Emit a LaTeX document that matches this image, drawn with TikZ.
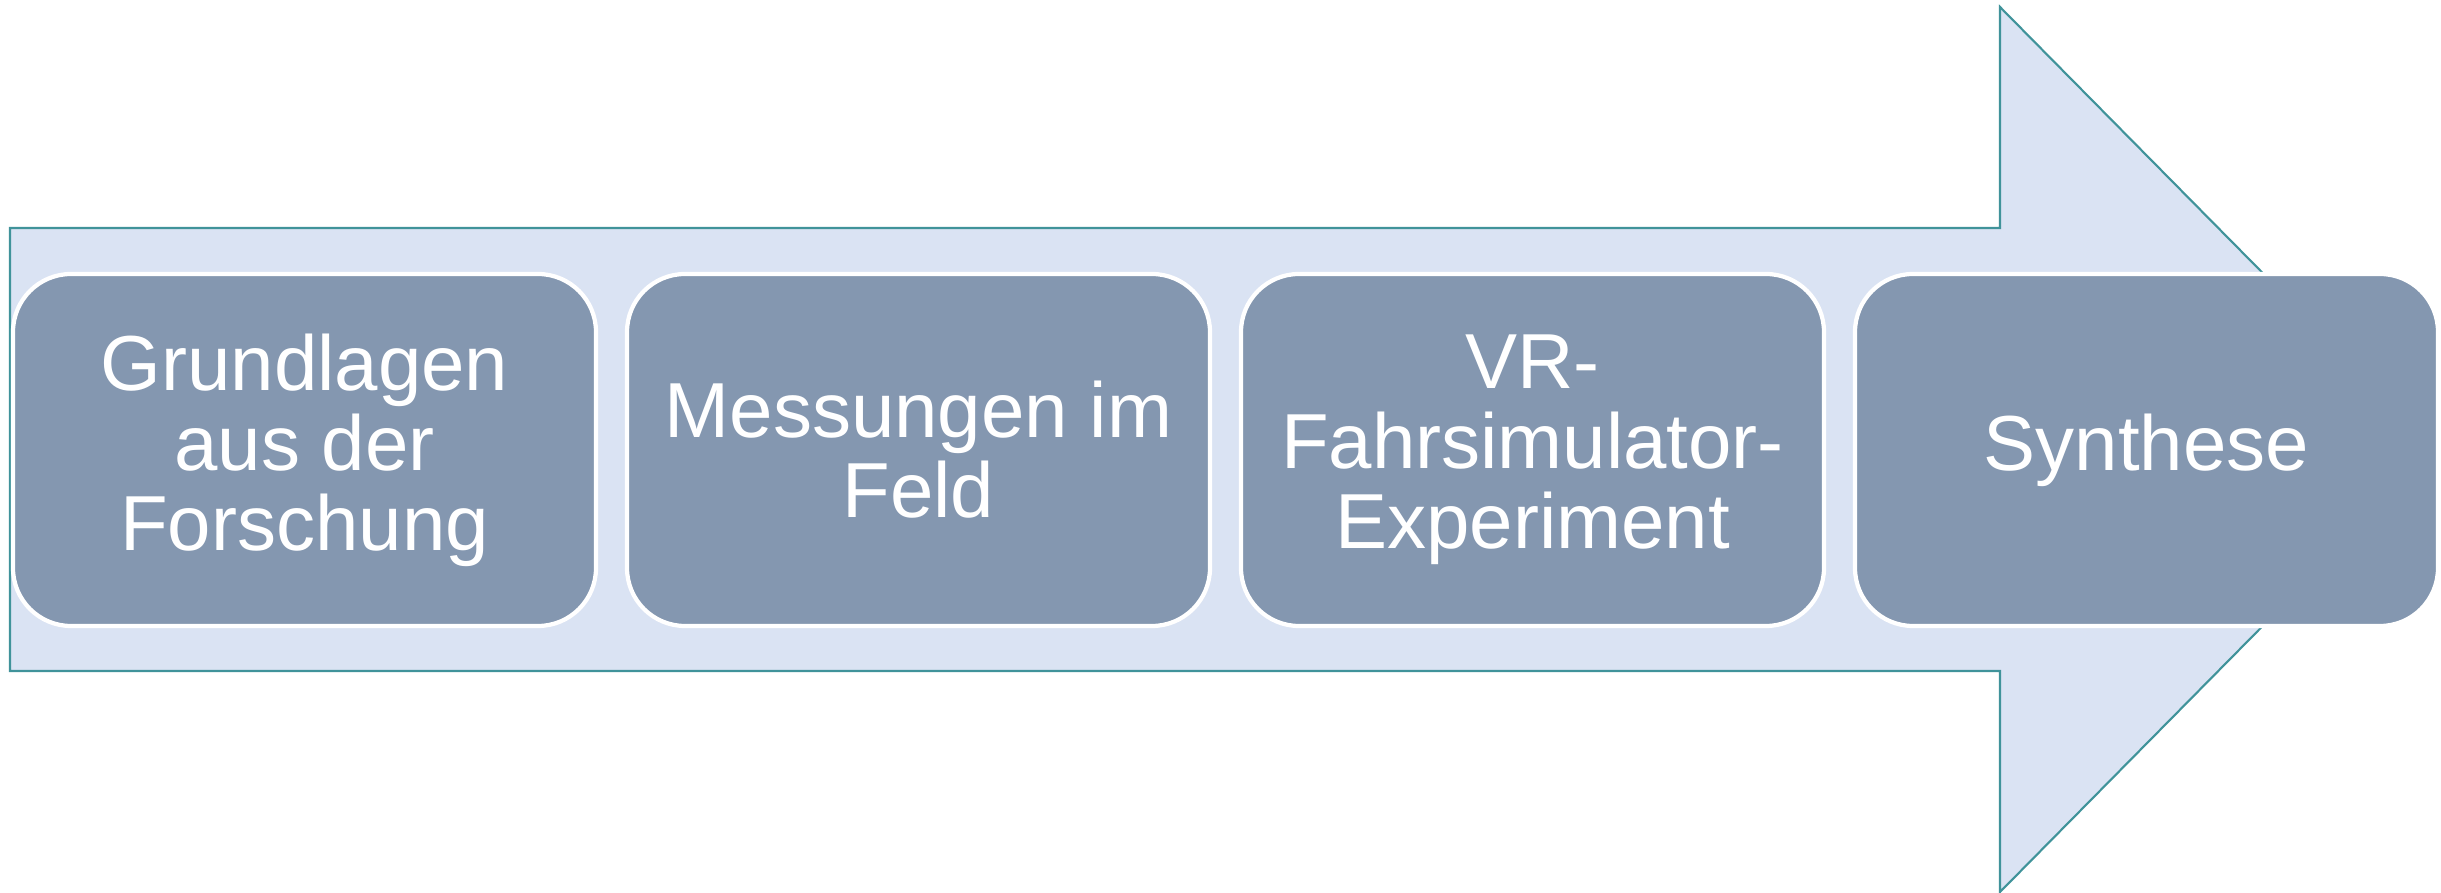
\documentclass[tikz,border=0pt]{standalone}
\usepackage{fontspec}
\setmainfont{Liberation Sans}
\usepackage{tikz}
\definecolor{arrowfill}{HTML}{DAE3F3}
\definecolor{arrowline}{HTML}{40939A}
\definecolor{stagefill}{HTML}{8497B0}
\tikzstyle{bigarrow}=[fill=arrowfill,draw=arrowline,line width=0.6pt,line join=miter]
\tikzstyle{Astage}=[draw=white,fill=stagefill,line width=1.2pt,rounded corners=0.58cm,
                minimum width=5.83cm,minimum height=3.52cm,outer sep=0pt,inner sep=0pt,
                text=white,align=center,font=\fontsize{22.2pt}{22.8pt}\selectfont,
                node distance=6.14cm]

\begin{document}
\begin{tikzpicture}
	\useasboundingbox (0,0) rectangle (24.41,-8.93);
	% Pfeil im Hintergrund
	\draw[bigarrow] (0.10,-2.28) -- (20.00,-2.28) -- (20.00,-0.07) -- (24.37,-4.495)
	   -- (20.00,-8.92) -- (20.00,-6.71) -- (0.10,-6.71) -- cycle;
	% Stufen
	\node[Astage] (grund) at (3.045,-4.50) {Grundlagen\\aus der\\Forschung};
	\node[Astage,right of=grund] (mess) {Messungen im\\Feld};
	\node[Astage,right of=mess] (vr) {VR-\\Fahrsimulator-\\Experiment};
	\node[Astage,right of=vr] (synth) {Synthese};
\end{tikzpicture}
\end{document}
